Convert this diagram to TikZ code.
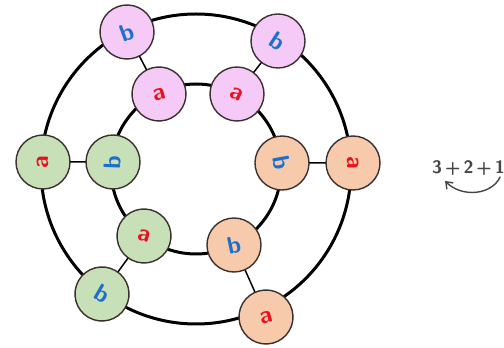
\documentclass[tikz,border=0pt]{standalone}
\usetikzlibrary{arrows.meta}
\definecolor{pinkfill}{RGB}{246,202,246}
\definecolor{greenfill}{RGB}{200,224,184}
\definecolor{orangefill}{RGB}{246,202,170}
\definecolor{letterblue}{RGB}{28,112,204}
\definecolor{letterred}{RGB}{232,18,30}
\definecolor{rimgray}{RGB}{58,48,48}
\definecolor{sumgray}{RGB}{70,70,70}
\tikzset{
  ring/.style={line width=3pt},
  spoke/.style={line width=1.5pt},
  ball/.style={circle,draw=rimgray,line width=1.4pt,minimum size=54pt,inner sep=0pt,
    font=\sffamily\bfseries\fontsize{24}{24}\selectfont},
  pinkball/.style={ball,fill=pinkfill},
  greenball/.style={ball,fill=greenfill},
  orangeball/.style={ball,fill=orangefill},
  la/.style={text=letterred},
  lb/.style={text=letterblue}
}
\begin{document}
\begin{tikzpicture}[x=1pt,y=1pt,line cap=round,line join=round]
  \useasboundingbox (0,0) rectangle (504,348);
  \coordinate (O) at (196,179);
  % the two rings
  \draw[ring] (O) circle (155);
  \draw[ring] (O) circle (85);
  % outer ring
  \node[pinkball,lb,rotate=20] (ob1) at (127,316) {b};
  \node[pinkball,lb,rotate=-33] (ob2) at (278,307) {b};
  \node[orangeball,la,rotate=-90] (ob3) at (353,185) {a};
  \node[orangeball,la,rotate=15] (ob4) at (266,31) {a};
  \node[greenball,lb,rotate=-30] (ob5) at (102,54) {b};
  \node[greenball,la,rotate=90] (ob6) at (43,186) {a};
  % inner ring
  \node[pinkball,la,rotate=15] (ib1) at (159,254) {a};
  \node[pinkball,la,rotate=-25] (ib2) at (237,254) {a};
  \node[orangeball,lb,rotate=-80] (ib3) at (282,185) {b};
  \node[orangeball,lb,rotate=12] (ib4) at (234,103) {b};
  \node[greenball,la,rotate=-15] (ib5) at (144,112) {a};
  \node[greenball,lb,rotate=88] (ib6) at (113,186) {b};
  % spokes
  \draw[spoke] (ob1) -- (ib1);
  \draw[spoke] (ob2) -- (ib2);
  \draw[spoke] (ob3) -- (ib3);
  \draw[spoke] (ob4) -- (ib4);
  \draw[spoke] (ob5) -- (ib5);
  \draw[spoke] (ob6) -- (ib6);
  % sum on the right
  \node[anchor=west,text=sumgray,font=\sffamily\bfseries\fontsize{18}{18}\selectfont,inner sep=0pt]
    (sum) at (432,180) {3\,+\,2\,+\,1};
  \coordinate (tail) at (500,171);
  \coordinate (head) at (445,167);
  \draw[sumgray,line width=1.4pt,-{Straight Barb[length=6pt,width=9pt]}] (tail)
    .. controls (492,153) and (462,150) .. (head);
\end{tikzpicture}
\end{document}
